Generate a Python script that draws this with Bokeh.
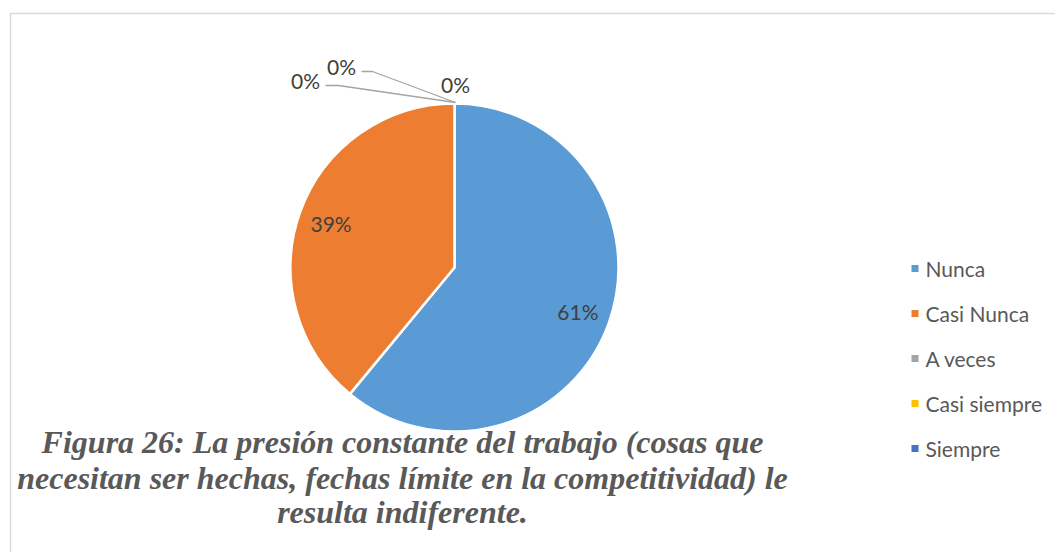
import numpy as np
from bokeh.plotting import figure
from bokeh.models import Range1d, ColumnDataSource
from bokeh.core.properties import value
from bokeh.embed import file_html
from bokeh.resources import INLINE

# ---- data ----
categories = ["Nunca", "Casi Nunca", "A veces", "Casi siempre", "Siempre"]
percentages = [61, 39, 0, 0, 0]
colors = ["#5B9BD5", "#ED7D31", "#A5A5A5", "#FFC000", "#4472C4"]
caption_lines = [
    "Figura 26: La presión constante del trabajo (cosas que",
    "necesitan ser hechas, fechas límite en la competitividad) le",
    "resulta indiferente.",
]

# ---- layout (page pixel coordinates) ----
W, H = 1055, 552
OX, OY = 0, 0


def px(x):
    return x - OX


def py(y):
    return H - (y - OY)


p = figure(width=W, height=H, output_backend="svg", toolbar_location=None,
           x_range=Range1d(0, W), y_range=Range1d(0, H),
           min_border=0, outline_line_color=None)
p.axis.visible = False
p.grid.visible = False
p.background_fill_color = "white"
p.border_fill_color = "white"

# chart border (top and left visible)
p.line([px(10), px(10), px(1070)], [py(600), py(13), py(13)],
       line_color="#D9D9D9", line_width=1.5)

# ---- pie ----
cx, cy, R = px(454), py(267), 164
vals = np.array(percentages, dtype=float)
frac = vals / vals.sum()
cum = np.concatenate([[0], np.cumsum(frac)])
start = np.pi / 2 - cum[:-1] * 2 * np.pi
end = np.pi / 2 - cum[1:] * 2 * np.pi
nz = [i for i, f in enumerate(frac) if f > 0]
src = ColumnDataSource(dict(cat=[categories[i] for i in nz],
                            start=[start[i] for i in nz],
                            end=[end[i] for i in nz],
                            color=[colors[i] for i in nz]))
p.wedge(x=cx, y=cy, radius=R, start_angle="start", end_angle="end",
        direction="clock", fill_color="color", line_color="white",
        line_width=2.5, source=src)

# in-slice labels (non-zero slices)
mid = (cum[:-1] + cum[1:]) / 2
lab_x, lab_y, lab_t = [], [], []
for f, m, v in zip(frac, mid, percentages):
    if f > 0:
        ang = np.pi / 2 - m * 2 * np.pi
        lab_x.append(cx + 0.8 * R * np.cos(ang))
        lab_y.append(cy + 0.8 * R * np.sin(ang))
        lab_t.append(f"{v}%")
p.text(lab_x, lab_y, text=lab_t, text_align="center", text_baseline="middle",
       text_font=value("Lato"), text_font_size="21px", text_color="#404040")

# zero-value labels with leader lines (outside the pie)
zero_idx = [i for i, v in enumerate(percentages) if v == 0]
zero_label_pos = [(305, 80), (341, 66), (455, 84)]
leaders = [[(325, 85), (338, 85), (455, 102)],
           [(361, 71), (372, 71), (455, 102)],
           None]
for k, i in enumerate(zero_idx):
    lx, ly = zero_label_pos[k]
    p.text([px(lx)], [py(ly)], text=[f"{percentages[i]}%"], text_align="center",
           text_baseline="middle", text_font=value("Lato"),
           text_font_size="21px", text_color="#404040")
    if leaders[k] is not None:
        xs = [px(a) for a, b in leaders[k]]
        ys = [py(b) for a, b in leaders[k]]
        p.line(xs, ys, line_color="#A5A5A5", line_width=1.3)

# ---- legend (manual) ----
leg_y = [py(268 + 45 * i) for i in range(len(categories))]
p.scatter([px(914.5)] * len(categories), leg_y, marker="square", size=7,
          fill_color=colors, line_color=None)
p.text([px(925)] * len(categories), leg_y, text=categories, text_align="left",
       text_baseline="middle", text_font=value("Lato"), text_font_size="21px",
       text_color="#595959")

# ---- caption ----
cap_y = [441, 477, 511]
p.text([px(402)] * len(caption_lines), [py(y) for y in cap_y], text=caption_lines,
       text_align="center", text_baseline="middle",
       text_font=value("Liberation Serif"), text_font_style="bold italic",
       text_font_size="32px", text_color="#595959")

open("out.html", "w").write(file_html(p, INLINE))
